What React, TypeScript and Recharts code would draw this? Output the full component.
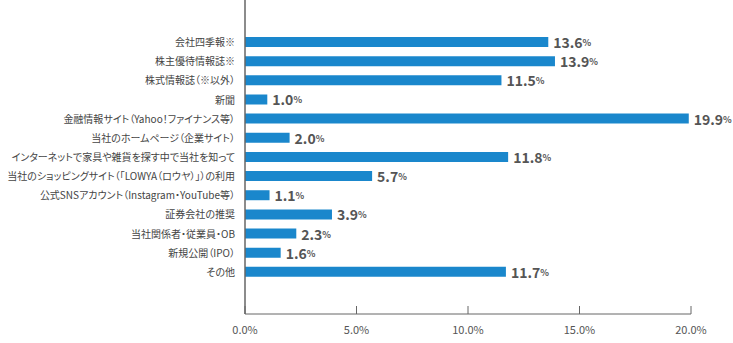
import React from 'react';
import { BarChart, Bar, XAxis, YAxis, LabelList } from 'recharts';

const categories = [
  '会社四季報※',
  '株主優待情報誌※',
  '株式情報誌（※以外）',
  '新聞',
  '金融情報サイト（Yahoo！ファイナンス等）',
  '当社のホームページ（企業サイト）',
  'インターネットで家具や雑貨を探す中で当社を知って',
  '当社のショッピングサイト（「LOWYA（ロウヤ）」）の利用',
  '公式SNSアカウント（Instagram・YouTube等）',
  '証券会社の推奨',
  '当社関係者・従業員・OB',
  '新規公開（IPO）',
  'その他',
];
const shares = [13.6, 13.9, 11.5, 1.0, 19.9, 2.0, 11.8, 5.7, 1.1, 3.9, 2.3, 1.6, 11.7];
const xTicks = [0, 5, 10, 15, 20];

const data = categories.map((name, i) => ({ name, value: shares[i] }));

const FONT = '"Noto Sans CJK JP", "Noto Sans", sans-serif';

const XTick = ({ x, y, payload }: any) => (
  <g>
    <line x1={x} x2={x} y1={y - 8} y2={y} stroke="#666" strokeWidth={1} />
    <text x={x} y={y + 20} textAnchor="middle" fill="#555" fontSize={11} fontFamily={FONT}>
      {payload.value.toFixed(1) + '%'}
    </text>
  </g>
);

const YTick = ({ x, y, payload }: any) => (
  <text
    x={x}
    y={y}
    textAnchor="end"
    dominantBaseline="central"
    fill="#444"
    fontSize={10}
    fontFamily={FONT}
    style={{ fontFeatureSettings: '"palt"' }}
  >
    {payload.value}
  </text>
);

const ValueLabel = ({ x, y, width, height, value }: any) => (
  <text
    x={x + width + 5}
    y={y + height / 2}
    dominantBaseline="central"
    fill="#555"
    fontFamily={FONT}
  >
    <tspan fontSize={14} fontWeight="bold">{value.toFixed(1)}</tspan>
    <tspan fontSize={9} fontWeight="bold">%</tspan>
  </text>
);

export default function App() {
  return (
    <div style={{ position: 'absolute', left: 0, top: 0, width: 733, height: 343, background: '#fff' }}>
      <BarChart
        width={733}
        height={343}
        data={data}
        layout="vertical"
        margin={{ top: 0, right: 42, bottom: 0, left: 0 }}
      >
        <XAxis
          type="number"
          domain={[0, 20]}
          ticks={xTicks}
          height={29}
          tickLine={false}
          tickSize={0}
          tickMargin={0}
          axisLine={{ stroke: '#666', strokeWidth: 1 }}
          tick={<XTick />}
          interval={0}
        />
        <YAxis
          type="category"
          dataKey="name"
          width={245}
          tickLine={false}
          tickSize={0}
          tickMargin={10}
          padding={{ top: 32, bottom: 33 }}
          axisLine={{ stroke: '#666', strokeWidth: 1.5 }}
          tick={<YTick />}
          interval={0}
        />
        <Bar dataKey="value" fill="#1a87cc" barSize={10} isAnimationActive={false}>
          <LabelList dataKey="value" content={<ValueLabel />} />
        </Bar>
      </BarChart>
    </div>
  );
}
